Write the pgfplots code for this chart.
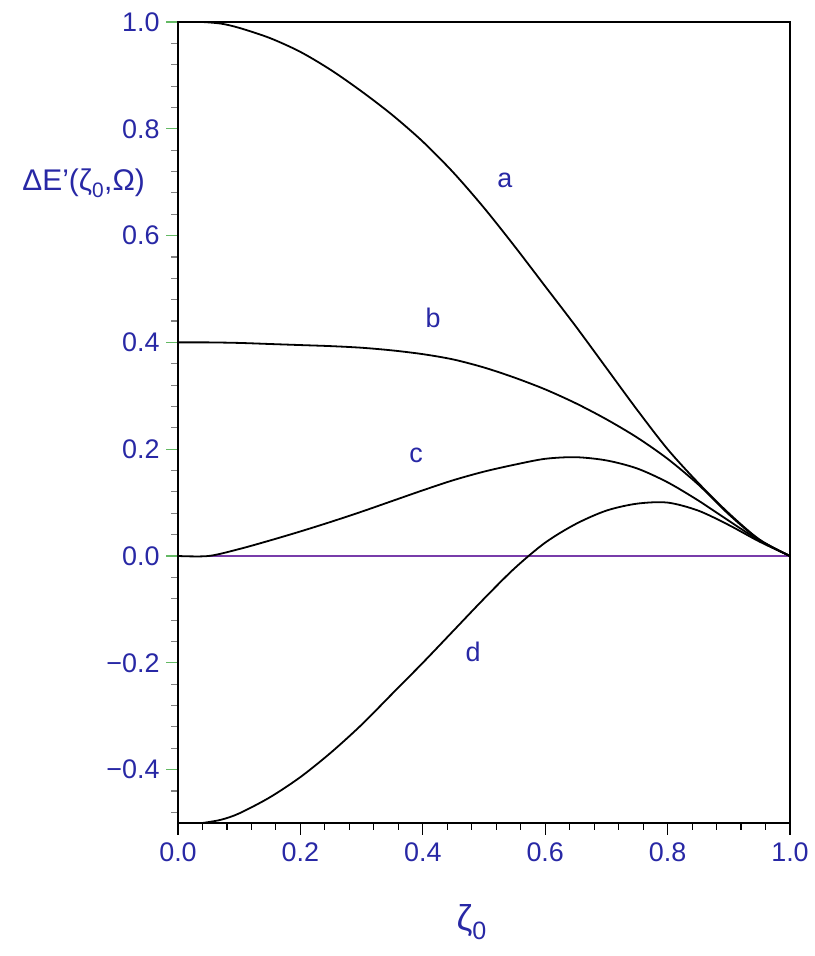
\documentclass[border=0pt]{standalone}
\usepackage{fontspec}
\setmainfont{Liberation Sans}
\usepackage{pgfplots}
\pgfplotsset{compat=1.18}
\definecolor{lblue}{RGB}{40,40,165}
\definecolor{tgreen}{RGB}{100,185,100}
\definecolor{zpurple}{RGB}{120,60,170}
\begin{document}
\begin{tikzpicture}
\path[use as bounding box] (-178bp,-133bp) rectangle (637bp,823bp);
\begin{axis}[
  at={(0,0)}, anchor=south west,
  width=612bp, height=801bp, scale only axis,
  xmin=0, xmax=1, ymin=-0.5, ymax=1.0,
  axis line style={black, line width=1.6bp},
  tick align=outside, xtick pos=bottom, ytick pos=left,
  xtick={0,0.2,0.4,0.6,0.8,1.0},
  xticklabels={0.0,0.2,0.4,0.6,0.8,1.0},
  ytick={-0.4,-0.2,0,0.2,0.4,0.6,0.8,1.0},
  yticklabels={−0.4,−0.2,0.0,0.2,0.4,0.6,0.8,1.0},
  minor xtick={0.04,0.08,0.12,0.16,0.24,0.28,0.32,0.36,0.44,0.48,0.52,0.56,0.64,0.68,0.72,0.76,0.84,0.88,0.92,0.96},
  minor ytick={-0.48,-0.44,-0.36,-0.32,-0.28,-0.24,-0.16,-0.12,-0.08,-0.04,0.04,0.08,0.12,0.16,0.24,0.28,0.32,0.36,0.44,0.48,0.52,0.56,0.64,0.68,0.72,0.76,0.84,0.88,0.92,0.96},
  major tick length=12bp, minor tick length=7bp,
  major x tick style={black, line width=1.3bp},
  minor x tick style={black, line width=1.1bp},
  major y tick style={tgreen, line width=1.3bp},
  minor y tick style={gray, line width=1.1bp},
  ticklabel style={font=\fontsize{27}{30}\selectfont, text=lblue},
  yticklabel style={xshift=-3bp},
  xticklabel style={yshift=-4bp},
  xlabel={ζ\textsubscript{0}},
  xlabel style={font=\fontsize{36}{40}\selectfont, text=lblue, at={(axis description cs:0.48,-0.124)}, anchor=center},
  clip=false,
]
\addplot[zpurple, line width=1.5bp] coordinates {(0.05,0) (1,0)};
% curve a
\addplot[black, line width=1.8bp, smooth] coordinates {
 (0.04,1.000) (0.07,0.997) (0.10,0.989) (0.15,0.970) (0.20,0.944) (0.25,0.910)
 (0.30,0.870) (0.35,0.826) (0.40,0.776) (0.45,0.718) (0.50,0.652) (0.55,0.580)
 (0.60,0.505) (0.65,0.430) (0.70,0.352) (0.75,0.274) (0.80,0.200) (0.85,0.137)
 (0.90,0.080) (0.95,0.031) (1.00,0.000)};
% curve b
\addplot[black, line width=1.8bp, smooth] coordinates {
 (0.00,0.400) (0.05,0.400) (0.10,0.399) (0.15,0.397) (0.20,0.395) (0.25,0.393)
 (0.30,0.390) (0.35,0.385) (0.40,0.378) (0.45,0.368) (0.50,0.353) (0.55,0.334)
 (0.60,0.312) (0.65,0.286) (0.70,0.256) (0.75,0.222) (0.80,0.182) (0.85,0.134)
 (0.90,0.078) (0.95,0.030) (1.00,0.000)};
% curve c
\addplot[black, line width=1.8bp, smooth] coordinates {
 (0.00,0.000) (0.05,0.000) (0.10,0.013) (0.15,0.029) (0.20,0.046) (0.25,0.064)
 (0.30,0.083) (0.35,0.103) (0.40,0.123) (0.45,0.142) (0.50,0.158) (0.55,0.171)
 (0.60,0.182) (0.65,0.185) (0.70,0.179) (0.75,0.164) (0.80,0.138) (0.85,0.104)
 (0.90,0.066) (0.95,0.029) (1.00,0.000)};
% curve d
\addplot[black, line width=1.8bp, smooth] coordinates {
 (0.04,-0.500) (0.07,-0.494) (0.10,-0.482) (0.15,-0.452) (0.20,-0.414) (0.25,-0.368)
 (0.30,-0.316) (0.35,-0.258) (0.40,-0.200) (0.45,-0.140) (0.50,-0.080) (0.55,-0.023)
 (0.60,0.025) (0.65,0.060) (0.70,0.085) (0.75,0.098) (0.80,0.100) (0.85,0.085)
 (0.90,0.058) (0.95,0.027) (1.00,0.000)};
\node[text=lblue, font=\fontsize{27}{30}\selectfont] at (axis cs:0.534,0.704) {a};
\node[text=lblue, font=\fontsize{27}{30}\selectfont] at (axis cs:0.417,0.446) {b};
\node[text=lblue, font=\fontsize{27}{30}\selectfont] at (axis cs:0.389,0.189) {c};
\node[text=lblue, font=\fontsize{27}{30}\selectfont] at (axis cs:0.482,-0.180) {d};
\node[text=lblue, font=\fontsize{30}{34}\selectfont, anchor=east, inner sep=0pt] at (axis cs:0,0.698) [xshift=-33bp] {ΔE'(ζ\textsubscript{0},Ω)};
\end{axis}
\end{tikzpicture}
\end{document}
